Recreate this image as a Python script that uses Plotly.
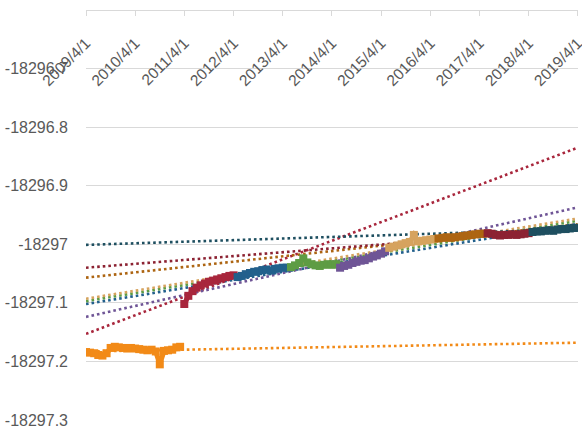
import plotly.graph_objects as go
import pandas as pd

# ---- data (monthly values) ----
orange_start = "2009-04-01"
orange_vals = [-18297.184, -18297.185, -18297.186, -18297.189, -18297.190, -18297.186,
               -18297.177, -18297.175, -18297.176, -18297.177, -18297.178, -18297.177,
               -18297.178, -18297.179, -18297.180, -18297.181, -18297.180, -18297.183,
               -18297.205, -18297.182, -18297.181, -18297.180, -18297.176, -18297.175]

crimson_start = "2011-04-01"
crimson_vals = [-18297.102, -18297.088, -18297.080, -18297.074, -18297.070, -18297.067,
                -18297.064, -18297.062, -18297.060, -18297.058, -18297.056, -18297.054,
                -18297.053]

blue_start = "2012-05-01"
blue_vals = [-18297.056, -18297.054, -18297.051, -18297.049, -18297.047, -18297.046,
             -18297.044, -18297.043, -18297.045, -18297.042, -18297.041, -18297.040,
             -18297.040]

green_start = "2013-06-01"
green_vals = [-18297.039, -18297.036, -18297.032, -18297.024, -18297.031, -18297.034,
              -18297.036, -18297.037, -18297.035, -18297.034, -18297.035, -18297.034,
              -18297.036]

purple_start = "2014-06-01"
purple_vals = [-18297.040, -18297.037, -18297.035, -18297.032, -18297.030, -18297.028,
               -18297.027, -18297.024, -18297.021, -18297.019, -18297.016, -18297.012]

tan_start = "2015-06-01"
tan_vals = [-18297.006, -18297.004, -18297.002, -18297.000, -18296.998, -18296.996,
            -18296.984, -18296.995, -18296.994, -18296.993, -18296.992, -18296.991]

brown_start = "2016-06-01"
brown_vals = [-18296.990, -18296.989, -18296.988, -18296.989, -18296.988, -18296.987,
              -18296.986, -18296.985, -18296.984, -18296.983, -18296.982, -18296.982]

darkred_start = "2017-06-01"
darkred_vals = [-18296.981, -18296.982, -18296.984, -18296.985, -18296.984, -18296.984,
                -18296.983, -18296.984, -18296.983, -18296.982, -18296.981]

teal_start = "2018-05-01"
teal_vals = [-18296.979, -18296.978, -18296.978, -18296.977, -18296.976, -18296.977,
             -18296.975, -18296.974, -18296.974, -18296.973, -18296.972, -18296.972]

# trendline values at 2009/4/1 and 2019/4/1
trend_dates = ["2009-04-01", "2019-04-01"]
orange_trend = [-18297.183, -18297.168]
crimson_trend = [-18297.153, -18296.835]
blue_trend = [-18297.102, -18296.965]
green_trend = [-18297.097, -18296.960]
purple_trend = [-18297.124, -18296.937]
tan_trend = [-18297.093, -18296.956]
brown_trend = [-18297.057, -18296.966]
darkred_trend = [-18297.040, -18296.974]
teal_trend = [-18297.001, -18296.974]

x_tick_dates = ["2009-04-01", "2010-04-01", "2011-04-01", "2012-04-01", "2013-04-01",
                "2014-04-01", "2015-04-01", "2016-04-01", "2017-04-01", "2018-04-01",
                "2019-04-01"]
x_tick_text = ["2009/4/1", "2010/4/1", "2011/4/1", "2012/4/1", "2013/4/1", "2014/4/1",
               "2015/4/1", "2016/4/1", "2017/4/1", "2018/4/1", "2019/4/1"]
y_tick_vals = [-18297.3, -18297.2, -18297.1, -18297.0, -18296.9, -18296.8, -18296.7]
y_tick_text = ["-18297.3", "-18297.2", "-18297.1", "-18297", "-18296.9", "-18296.8", "-18296.7"]

series = [
    (orange_start, orange_vals, orange_trend, "#F28A17"),
    (crimson_start, crimson_vals, crimson_trend, "#A8263C"),
    (blue_start, blue_vals, blue_trend, "#22608C"),
    (green_start, green_vals, green_trend, "#5E9C44"),
    (purple_start, purple_vals, purple_trend, "#6F5596"),
    (tan_start, tan_vals, tan_trend, "#D6A35E"),
    (brown_start, brown_vals, brown_trend, "#AD6512"),
    (darkred_start, darkred_vals, darkred_trend, "#8C2232"),
    (teal_start, teal_vals, teal_trend, "#1E4F60"),
]

fig = go.Figure()

# trendlines first
for start, vals, trend, color in series:
    fig.add_trace(go.Scatter(
        x=trend_dates, y=trend, mode="lines",
        line=dict(color=color, width=2.6, dash="2.6px,3px"),
        hoverinfo="skip", showlegend=False))

for start, vals, trend, color in series:
    dates = pd.date_range(start, periods=len(vals), freq="MS")
    fig.add_trace(go.Scatter(
        x=dates, y=vals, mode="lines+markers",
        line=dict(color=color, width=5),
        marker=dict(color=color, size=8, symbol="square"),
        showlegend=False))

font_family = "Liberation Sans, Arial, sans-serif"
fig.update_layout(
    width=582, height=431,
    margin=dict(l=86, r=4, t=10, b=11),
    paper_bgcolor="white", plot_bgcolor="white",
    showlegend=False,
    font=dict(family=font_family, size=16, color="#595959"),
    xaxis=dict(
        type="date",
        range=["2009-04-01", "2019-04-03"],
        anchor="free", position=1, side="bottom",
        tickmode="array", tickvals=x_tick_dates, ticktext=x_tick_text,
        tickangle=-45,
        showgrid=False, zeroline=False,
        showline=True, linecolor="#D9D9D9", linewidth=1,
        ticks="outside", ticklen=5, tickcolor="#D9D9D9",
        ticklabelstandoff=12,
        ticklabeloverflow="allow",
        tickfont=dict(family=font_family, size=15.5, color="#595959"),
        automargin=False,
    ),
    yaxis=dict(
        range=[-18297.3, -18296.6],
        tickmode="array", tickvals=y_tick_vals, ticktext=y_tick_text,
        showgrid=True, gridcolor="#D9D9D9", gridwidth=1,
        zeroline=False, showline=False,
        ticks="", ticklabelstandoff=17,
        ticklabeloverflow="allow",
        tickfont=dict(family=font_family, size=16, color="#595959"),
        automargin=False,
    ),
)

fig.write_html("out.html")
